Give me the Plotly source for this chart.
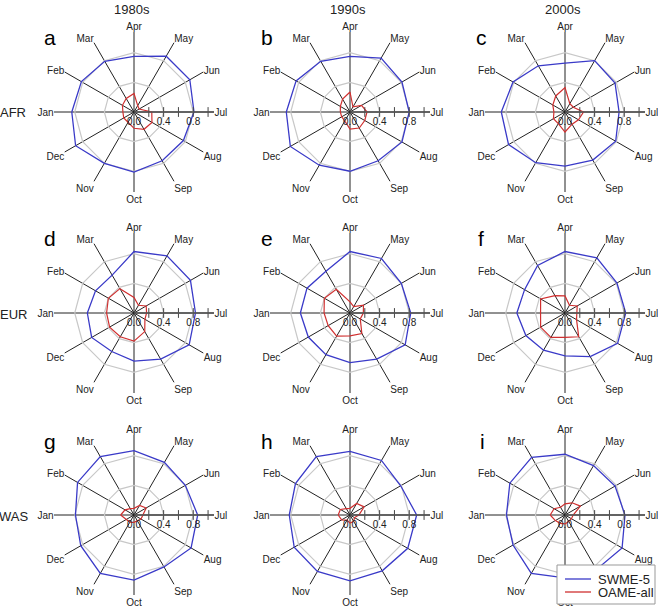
import plotly.graph_objects as go

# Hónapok és adatsorok
months = ["Jan", "Feb", "Mar", "Apr", "May", "Jun",
          "Jul", "Aug", "Sep", "Oct", "Nov", "Dec"]

decades = ["1980s", "1990s", "2000s"]
regions = ["AFR", "EUR", "WAS"]
letters = ["a", "b", "c", "d", "e", "f", "g", "h", "i"]
series_names = ["SWME-5", "OAME-all"]

# SWME-5 (kék)
swme_afr_80 = [0.84, 0.82, 0.79, 0.75, 0.87, 0.87, 0.81, 0.77, 0.76, 0.81, 0.80, 0.91]
swme_afr_90 = [0.86, 0.84, 0.79, 0.75, 0.84, 0.81, 0.80, 0.81, 0.76, 0.80, 0.83, 0.93]
swme_afr_00 = [0.86, 0.81, 0.72, 0.66, 0.80, 0.78, 0.73, 0.79, 0.75, 0.73, 0.79, 0.88]
swme_eur_80 = [0.63, 0.60, 0.59, 0.83, 0.89, 0.88, 0.83, 0.86, 0.72, 0.65, 0.60, 0.66]
swme_eur_90 = [0.67, 0.67, 0.65, 0.83, 0.85, 0.80, 0.82, 0.86, 0.72, 0.67, 0.65, 0.65]
swme_eur_00 = [0.65, 0.63, 0.74, 0.83, 0.86, 0.81, 0.82, 0.82, 0.68, 0.58, 0.58, 0.61]
swme_was_80 = [0.79, 0.88, 0.91, 0.87, 0.82, 0.80, 0.86, 0.89, 0.81, 0.88, 0.91, 0.83]
swme_was_90 = [0.82, 0.85, 0.91, 0.86, 0.85, 0.79, 0.90, 0.90, 0.87, 0.89, 0.88, 0.87]
swme_was_00 = [0.79, 0.86, 0.90, 0.82, 0.77, 0.78, 0.81, 0.89, 0.85, 0.85, 0.91, 0.81]

# OAME-all (piros)
oame_afr_80 = [0.15, 0.18, 0.21, 0.25, 0.10, 0.08, 0.24, 0.28, 0.27, 0.22, 0.16, 0.16]
oame_afr_90 = [0.13, 0.15, 0.20, 0.27, 0.08, 0.18, 0.23, 0.23, 0.25, 0.23, 0.14, 0.13]
oame_afr_00 = [0.15, 0.19, 0.25, 0.33, 0.13, 0.13, 0.25, 0.21, 0.19, 0.27, 0.18, 0.18]
oame_eur_80 = [0.37, 0.40, 0.38, 0.21, 0.12, 0.19, 0.17, 0.17, 0.29, 0.38, 0.37, 0.38]
oame_eur_90 = [0.35, 0.40, 0.37, 0.15, 0.10, 0.21, 0.18, 0.16, 0.32, 0.31, 0.36, 0.34]
oame_eur_00 = [0.33, 0.38, 0.27, 0.23, 0.12, 0.19, 0.16, 0.18, 0.37, 0.33, 0.38, 0.38]
oame_was_80 = [0.18, 0.14, 0.10, 0.09, 0.15, 0.19, 0.12, 0.11, 0.09, 0.10, 0.11, 0.12]
oame_was_90 = [0.16, 0.15, 0.10, 0.09, 0.18, 0.22, 0.12, 0.07, 0.10, 0.11, 0.08, 0.13]
oame_was_00 = [0.20, 0.17, 0.12, 0.15, 0.19, 0.24, 0.11, 0.10, 0.10, 0.12, 0.13, 0.15]

swme = [swme_afr_80, swme_afr_90, swme_afr_00,
        swme_eur_80, swme_eur_90, swme_eur_00,
        swme_was_80, swme_was_90, swme_was_00]
oame = [oame_afr_80, oame_afr_90, oame_afr_00,
        oame_eur_80, oame_eur_90, oame_eur_00,
        oame_was_80, oame_was_90, oame_was_00]

grid_levels = [0.4, 0.8]
tick_r = [0.2, 0.4, 0.6, 0.8, 1.0]
tick_vals = [0.0, 0.4, 0.8]
tick_text = ["0.0", "0.4", "0.8"]

W, H = 658, 606
col_x = [134, 350, 565]
row_y = [112, 313, 515]
R = 80
FONT = "Liberation Sans, Arial, sans-serif"
BLUE = "#3a3ac8"
RED = "#d03030"

fig = go.Figure()
layout_polars = {}

for k in range(9):
    row, col = divmod(k, 3)
    cx, cy = col_x[col], row_y[row]
    name = "polar" if k == 0 else f"polar{k+1}"
    sub = name

    theta_c = months + [months[0]]
    # szürke rács poligonok
    for g in grid_levels:
        fig.add_trace(go.Scatterpolar(
            r=[g] * 13, theta=theta_c, mode="lines",
            line=dict(color="#c8c8c8", width=1.2),
            showlegend=False, hoverinfo="skip", subplot=sub))
    fig.add_trace(go.Scatterpolar(
        r=swme[k] + [swme[k][0]], theta=theta_c, mode="lines",
        line=dict(color=BLUE, width=1.3),
        name=series_names[0], showlegend=False, subplot=sub))
    fig.add_trace(go.Scatterpolar(
        r=oame[k] + [oame[k][0]], theta=theta_c, mode="lines",
        line=dict(color=RED, width=1.2),
        name=series_names[1], showlegend=False, subplot=sub))
    # tengely osztások
    fig.add_trace(go.Scatterpolar(
        r=tick_r, theta=["Jul"] * len(tick_r), mode="markers",
        marker=dict(symbol="line-ns", size=7, line=dict(color="#444", width=1)),
        showlegend=False, hoverinfo="skip", subplot=sub))
    fig.add_trace(go.Scatterpolar(
        r=[0], theta=["Jul"], mode="markers",
        marker=dict(color="black", size=5),
        showlegend=False, hoverinfo="skip", subplot=sub))

    layout_polars[name] = dict(
        domain=dict(x=[(cx - R) / W, (cx + R) / W],
                    y=[1 - (cy + R) / H, 1 - (cy - R) / H]),
        bgcolor="white",
        gridshape="linear",
        angularaxis=dict(
            rotation=180, direction="clockwise",
            categoryorder="array", categoryarray=months,
            showline=False, showgrid=True, gridcolor="#222", gridwidth=1,
            ticks="", tickfont=dict(size=10, color="#222", family=FONT)),
        radialaxis=dict(
            range=[0, 1.08], angle=0, tickangle=0,
            tickvals=tick_vals, ticktext=tick_text,
            showgrid=False, showline=True, linecolor="#555", linewidth=1.3,
            ticks="", side="clockwise",
            tickfont=dict(size=10, color="#222", family=FONT)),
    )

annotations = []
for j, d in enumerate(decades):
    annotations.append(dict(text=d, x=(col_x[j] - 2) / W, y=1 - 9 / H,
                            font=dict(size=13, color="#222", family=FONT)))
for i, r in enumerate(regions):
    annotations.append(dict(text=r, x=13 / W, y=1 - (row_y[i] + 1) / H,
                            font=dict(size=13, color="#222", family=FONT)))
letter_pos = [(50, 37), (267, 37), (481, 37),
              (50, 238), (267, 238), (481, 238),
              (50, 442), (267, 442), (482, 442)]
for (lx, ly), t in zip(letter_pos, letters):
    annotations.append(dict(text=t, x=lx / W, y=1 - ly / H,
                            font=dict(size=21, color="black", family=FONT)))
for a in annotations:
    a.update(xref="paper", yref="paper", xanchor="center", yanchor="middle", showarrow=False)

# jelmagyarázat doboz
leg_x0, leg_x1, leg_y0, leg_y1 = 557, 655, 565, 604
shapes = [dict(type="rect", xref="paper", yref="paper",
               x0=leg_x0 / W, x1=leg_x1 / W, y0=1 - leg_y1 / H, y1=1 - leg_y0 / H,
               line=dict(color="#999", width=1), fillcolor="white", layer="above")]
for ly, col, txt in [(579, BLUE, series_names[0]), (592, RED, series_names[1])]:
    shapes.append(dict(type="line", xref="paper", yref="paper",
                       x0=565 / W, x1=591 / W, y0=1 - ly / H, y1=1 - ly / H,
                       line=dict(color=col, width=1.3), layer="above"))
    annotations.append(dict(text=txt, x=596 / W, y=1 - ly / H, xref="paper", yref="paper",
                            xanchor="left", yanchor="middle", showarrow=False,
                            font=dict(size=13, color="#222", family=FONT)))

fig.update_layout(
    width=W, height=H,
    margin=dict(l=0, r=0, t=0, b=0, autoexpand=False),
    paper_bgcolor="white",
    font=dict(family=FONT),
    showlegend=False,
    annotations=annotations,
    shapes=shapes,
    **layout_polars
)

fig.write_html("out.html", config={"displayModeBar": False},
               post_script="document.body.style.margin='0';")
